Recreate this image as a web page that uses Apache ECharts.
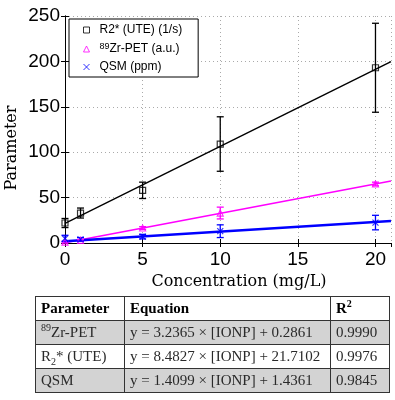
<!DOCTYPE html>
<html>
<head>
<meta charset="utf-8">
<script src="https://cdn.jsdelivr.net/npm/echarts@6/dist/echarts.min.js"></script>
<style>
  body { margin: 0; background: #fff; }
  #wrap { position: relative; width: 395px; height: 400px; }
  #chart { position: absolute; left: 0; top: 0; width: 395px; height: 400px; }
  #fitTable {
    position: absolute; left: 35px; top: 296px;
    border-collapse: collapse;
    font-family: 'Liberation Serif', serif; font-size: 15px; color: #2a2a2a;
  }
  #fitTable td, #fitTable th {
    border: 1px solid #333; padding: 0 5px; height: 23px; text-align: left; white-space: nowrap;
  }
  #fitTable th { color: #000; font-weight: bold; }
  #fitTable tr.shade td { background: #d3d3d3; }
  sup, sub { font-size: 10px; line-height: 0; }
</style>
</head>
<body>
<div id="wrap">
  <div id="chart"></div>
  <table id="fitTable"></table>
</div>
<script>
// measured concentrations (mg/L)
const concentrations = [0, 1, 5, 10, 20]

// R2* (UTE) (1/s)
const r2Mean = [22, 33, 58, 109, 193]
const r2Err = [5, 5.5, 9, 30, 49]
// 89Zr-PET (a.u.)
const petMean = [1, 3, 16.5, 33, 65]
const petErr = [1, 1, 1.5, 6.5, 2]
// QSM (ppm)
const qsmMean = [5, 4, 7, 13, 22.5]
const qsmErr = [3.5, 2, 2.5, 7, 8]

// linear fit results (table rows: PET, R2*, QSM)
const fitNames = ['<sup>89</sup>Zr-PET', 'R<sub>2</sub>* (UTE)', 'QSM']
const fitSlope = [3.2365, 8.4827, 1.4099]
const fitIntercept = [0.2861, 21.7102, 1.4361]
const fitR2 = ['0.9990', '0.9976', '0.9845']

// fit lines as drawn in the plot (QSM line in the figure is flatter than its table entry)
const plotSlope = [3.2365, 8.4827, 1.06]
const plotIntercept = [0.2861, 21.7102, 2.0]

const xTicks = [0, 5, 10, 15, 20]
const yTicks = [0, 50, 100, 150, 200, 250]
const xMax = 21

const legendNames = ['R2* (UTE) (1/s)', '89Zr-PET (a.u.)', 'QSM (ppm)']

const BLACK = '#000000'
const MAGENTA = '#ff00ff'
const BLUE = '#0000ff'
const X_ICON = 'path://M0,0L10,10M10,0L0,10'

// table
const tbl = document.getElementById('fitTable')
let html = '<tr><th style="width:78px">Parameter</th><th style="width:195px">Equation</th><th style="width:48px">R<sup>2</sup></th></tr>'
fitNames.forEach((n, i) => {
  html += `<tr class="${i % 2 === 0 ? 'shade' : ''}"><td>${n}</td><td>y = ${fitSlope[i].toFixed(4)} × [IONP] + ${fitIntercept[i].toFixed(4)}</td><td>${fitR2[i]}</td></tr>`
})
tbl.innerHTML = html

const fitLine = (i) => [[0, plotIntercept[i]], [xMax, plotSlope[i] * xMax + plotIntercept[i]]]

const errorSeries = (name, mean, err, color) => ({
  name,
  type: 'custom',
  data: concentrations.map((c, i) => [c, mean[i] - err[i], mean[i] + err[i]]),
  encode: { x: 0, y: [1, 2] },
  z: 3,
  renderItem: (params, api) => {
    const x = api.value(0)
    const lo = api.coord([x, api.value(1)])
    const hi = api.coord([x, api.value(2)])
    const w = 3.5
    const style = { stroke: color, lineWidth: 1.3 }
    return {
      type: 'group',
      children: [
        { type: 'line', shape: { x1: lo[0], y1: lo[1], x2: hi[0], y2: hi[1] }, style },
        { type: 'line', shape: { x1: lo[0] - w, y1: lo[1], x2: lo[0] + w, y2: lo[1] }, style },
        { type: 'line', shape: { x1: hi[0] - w, y1: hi[1], x2: hi[0] + w, y2: hi[1] }, style },
      ],
    }
  },
})

const chart = echarts.init(document.getElementById('chart'))

const labelFont = { fontFamily: 'Liberation Sans', fontSize: 19, color: '#000' }
const nameFont = { fontFamily: 'DejaVu Serif', fontSize: 16, color: '#000' }

chart.setOption({
  animation: false,
  grid: { left: 65, right: 4, top: 16, bottom: 157, outerBoundsMode: 'none', containLabel: false },
  graphic: [
    {
      type: 'text',
      x: 12,
      y: 148,
      rotation: Math.PI / 2,
      style: {
        text: 'Parameter',
        fontFamily: 'DejaVu Serif',
        fontSize: 16,
        fill: '#000',
        align: 'center',
        verticalAlign: 'middle',
      },
    },
  ],
  legend: {
    orient: 'vertical',
    left: 69,
    top: 19,
    backgroundColor: '#fff',
    borderColor: '#000',
    borderWidth: 1,
    borderRadius: 0,
    padding: [5, 16, 4, 12],
    itemWidth: 6,
    itemHeight: 6,
    itemGap: 6,
    selectedMode: false,
    data: [
      { name: legendNames[0], icon: 'rect', itemStyle: { color: 'none', borderColor: BLACK, borderWidth: 1 } },
      { name: legendNames[1], icon: 'triangle', itemStyle: { color: 'none', borderColor: MAGENTA, borderWidth: 1 } },
      { name: legendNames[2], icon: X_ICON, itemStyle: { color: 'none', borderColor: BLUE, borderWidth: 1 } },
    ],
    formatter: (n) => (n === legendNames[1] ? '{sup|89}{t|Zr-PET (a.u.)}' : '{t|' + n + '}'),
    textStyle: {
      fontFamily: 'Liberation Sans',
      fontSize: 12,
      color: '#000',
      padding: [0, 0, 0, 5],
      rich: {
        t: { fontFamily: 'Liberation Sans', fontSize: 12, color: '#000', lineHeight: 14 },
        sup: { fontFamily: 'Liberation Sans', fontSize: 9, color: '#000', lineHeight: 8, verticalAlign: 'top' },
      },
    },
  },
  xAxis: [
    {
      type: 'value',
      min: 0,
      max: xMax,
      interval: xTicks[1] - xTicks[0],
      name: 'Concentration (mg/L)',
      nameLocation: 'middle',
      nameGap: 31,
      nameTextStyle: { ...nameFont, padding: [0, 0, 0, 22] },
      axisLine: { lineStyle: { color: '#000', width: 1 } },
      axisTick: { inside: true, length: 4, lineStyle: { color: '#000' } },
      axisLabel: { ...labelFont, margin: 7 },
      splitLine: { show: true, lineStyle: { color: '#aaa', type: [1, 3], width: 1 } },
    },
    {
      type: 'value',
      position: 'top',
      min: 0,
      max: xMax,
      interval: xTicks[1] - xTicks[0],
      axisLine: { lineStyle: { color: '#000', width: 1 } },
      axisTick: { inside: true, length: 4, lineStyle: { color: '#000' } },
      axisLabel: { show: false },
      splitLine: { show: false },
    },
  ],
  yAxis: [
    {
      type: 'value',
      min: yTicks[0],
      max: yTicks[yTicks.length - 1],
      interval: yTicks[1] - yTicks[0],
      axisLine: { show: true, lineStyle: { color: '#000', width: 1 } },
      axisTick: { show: true, inside: true, length: 4, lineStyle: { color: '#000' } },
      axisLabel: { ...labelFont, margin: 5 },
      splitLine: { show: true, lineStyle: { color: '#aaa', type: [1, 3], width: 1 } },
    },
    {
      type: 'value',
      position: 'right',
      min: yTicks[0],
      max: yTicks[yTicks.length - 1],
      interval: yTicks[1] - yTicks[0],
      axisLine: { show: true, lineStyle: { color: '#000', width: 1 } },
      axisTick: { show: true, inside: true, length: 4, lineStyle: { color: '#000' } },
      axisLabel: { show: false },
      splitLine: { show: false },
    },
  ],
  series: [
    {
      name: 'R2 fit', type: 'line', data: fitLine(1), showSymbol: false, z: 2,
      lineStyle: { color: BLACK, width: 1.4 },
    },
    {
      name: 'PET fit', type: 'line', data: fitLine(0), showSymbol: false, z: 2,
      lineStyle: { color: MAGENTA, width: 1.6 },
    },
    {
      name: 'QSM fit', type: 'line', data: fitLine(2), showSymbol: false, z: 2,
      lineStyle: { color: BLUE, width: 2.4 },
    },
    errorSeries('R2 err', r2Mean, r2Err, BLACK),
    errorSeries('PET err', petMean, petErr, MAGENTA),
    errorSeries('QSM err', qsmMean, qsmErr, BLUE),
    {
      name: legendNames[0], type: 'scatter', symbol: 'rect', symbolSize: 6, z: 4,
      data: concentrations.map((c, i) => [c, r2Mean[i]]),
      itemStyle: { color: 'none', borderColor: BLACK, borderWidth: 1.2 },
    },
    {
      name: legendNames[1], type: 'scatter', symbol: 'triangle', symbolSize: 6, z: 4,
      data: concentrations.map((c, i) => [c, petMean[i]]),
      itemStyle: { color: 'none', borderColor: MAGENTA, borderWidth: 1.2 },
    },
    {
      name: legendNames[2], type: 'scatter', symbol: X_ICON, symbolSize: 6, z: 4,
      data: concentrations.map((c, i) => [c, qsmMean[i]]),
      itemStyle: { color: 'none', borderColor: BLUE, borderWidth: 1.2 },
    },
  ],
})

window.addEventListener('resize', () => chart.resize())
</script>
</body>
</html>
